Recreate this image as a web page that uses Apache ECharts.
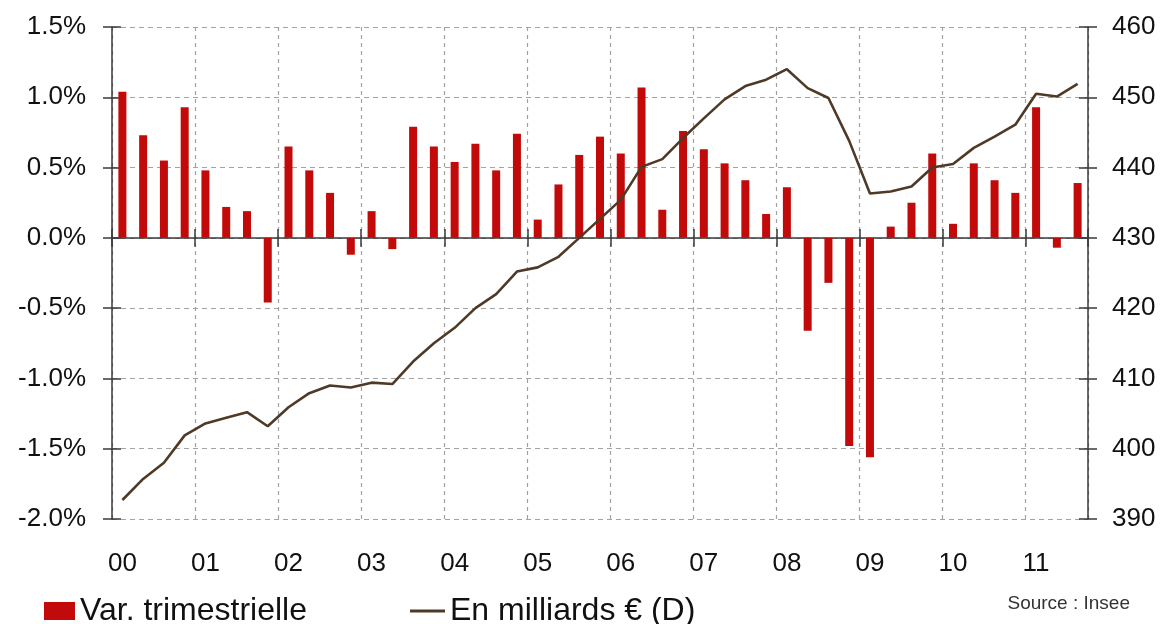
<!DOCTYPE html>
<html>
<head>
<meta charset="utf-8">
<script src="https://cdn.jsdelivr.net/npm/echarts@6/dist/echarts.min.js"></script>
<style>
  html, body { margin: 0; padding: 0; background: #fff; }
  #main { width: 1170px; height: 624px; }
</style>
</head>
<body>
<div id="main"></div>
<script>
// tick labels (years) and quarters
var years = ['00', '01', '02', '03', '04', '05', '06', '07', '08', '09', '10', '11'];
var quarters = ['T1', 'T2', 'T3', 'T4'];

// quarterly change, % (left axis)
var varTrim = [
    1.04, 0.73, 0.55, 0.93,
    0.48, 0.22, 0.19, -0.46,
    0.65, 0.48, 0.32, -0.12,
    0.19, -0.08, 0.79, 0.65,
    0.54, 0.67, 0.48, 0.74,
    0.13, 0.38, 0.59, 0.72,
    0.60, 1.07, 0.20, 0.76,
    0.63, 0.53, 0.41, 0.17,
    0.36, -0.66, -0.32, -1.48,
    -1.56, 0.08, 0.25, 0.60,
    0.10, 0.53, 0.41, 0.32,
    0.93, -0.07, 0.39
];

// level, billions of euros (right axis)
var milliards = [
    392.7, 395.7, 398.0, 401.9,
    403.6, 404.4, 405.2, 403.2,
    405.9, 407.9, 409.0, 408.7,
    409.4, 409.2, 412.4, 415.0,
    417.2, 420.0, 422.0, 425.2,
    425.8, 427.3, 430.0, 432.7,
    435.4, 440.1, 441.2, 444.2,
    447.0, 449.7, 451.6, 452.5,
    454.0, 451.3, 449.9, 443.8,
    436.3, 436.6, 437.3, 440.0,
    440.5, 442.8, 444.4, 446.1,
    450.5, 450.1, 451.9
];

var cats = [];
years.forEach(function (y) {
    quarters.forEach(function (q) {
        if (cats.length < varTrim.length) cats.push(y + ' ' + q);
    });
});

var FONT = '"Liberation Sans", Arial, sans-serif';
var gridColor = '#a3a3a3';
var axisColor = '#3a3a3a';
var tickStyle = {color: axisColor, width: 1.5};

var myChart = echarts.init(document.getElementById('main'));
var option = {
    animation: false,
    textStyle: {fontFamily: FONT},
    grid: {left: 112, right: 82, top: 27, bottom: 105},
    title: {
        text: 'Source : Insee',
        right: 35,
        top: 589,
        textStyle: {fontSize: 19, fontWeight: 'normal', color: '#333', fontFamily: FONT}
    },
    legend: [
        {
            data: [{name: 'Var. trimestrielle', icon: 'rect'}],
            left: 39,
            top: 590,
            itemWidth: 31,
            itemHeight: 18,
            textStyle: {fontSize: 32, color: '#111', fontFamily: FONT}
        },
        {
            data: [{name: 'En milliards € (D)', icon: 'rect'}],
            left: 405,
            top: 590,
            itemWidth: 35,
            itemHeight: 3,
            textStyle: {fontSize: 32, color: '#111', fontFamily: FONT}
        }
    ],
    xAxis: [
        {
            // axis on the zero line, ticks pointing down
            type: 'category',
            data: cats,
            position: 'bottom',
            axisLine: {onZero: true, lineStyle: {color: axisColor, width: 1.5}},
            axisTick: {show: true, interval: 3, length: 9, lineStyle: tickStyle},
            axisLabel: {show: false},
            splitLine: {show: true, interval: 3, lineStyle: {color: gridColor, type: [4, 4], width: 1.2}}
        },
        {
            // upper half of the crossing ticks on the zero line
            type: 'category',
            data: cats,
            position: 'top',
            offset: -211,
            axisLine: {show: false, onZero: false},
            axisTick: {show: true, interval: 3, length: 9, lineStyle: tickStyle},
            axisLabel: {show: false},
            splitLine: {show: false}
        },
        {
            // year labels at the bottom
            type: 'category',
            data: cats,
            position: 'bottom',
            axisLine: {show: false, onZero: false},
            axisTick: {show: false},
            axisLabel: {
                interval: 3,
                margin: 32,
                fontSize: 26,
                color: '#111',
                fontFamily: FONT,
                formatter: function (v) { return v.split(' ')[0]; }
            },
            splitLine: {show: false}
        }
    ],
    yAxis: [
        {
            type: 'value',
            min: -2,
            max: 1.5,
            interval: 0.5,
            axisLine: {show: true, lineStyle: {color: axisColor, width: 1.5}},
            axisTick: {show: true, length: 9, lineStyle: tickStyle},
            axisLabel: {
                margin: 26,
                fontSize: 26,
                color: '#111',
                fontFamily: FONT,
                formatter: function (v) { return v.toFixed(1) + '%'; }
            },
            splitLine: {show: true, lineStyle: {color: gridColor, type: [5, 4], width: 1.2}}
        },
        {
            type: 'value',
            min: 390,
            max: 460,
            interval: 10,
            position: 'right',
            axisLine: {show: true, lineStyle: {color: axisColor, width: 1.5}},
            axisTick: {show: true, length: 9, lineStyle: tickStyle},
            axisLabel: {margin: 24, fontSize: 26, color: '#111', fontFamily: FONT},
            splitLine: {show: false}
        },
        {
            // inner half of the left ticks
            type: 'value',
            min: -2,
            max: 1.5,
            interval: 0.5,
            position: 'left',
            axisLine: {show: false},
            axisTick: {show: true, inside: true, length: 9, lineStyle: tickStyle},
            axisLabel: {show: false},
            splitLine: {show: false}
        },
        {
            // inner half of the right ticks
            type: 'value',
            min: 390,
            max: 460,
            interval: 10,
            position: 'right',
            axisLine: {show: false},
            axisTick: {show: true, inside: true, length: 9, lineStyle: tickStyle},
            axisLabel: {show: false},
            splitLine: {show: false}
        }
    ],
    series: [
        {
            name: 'Var. trimestrielle',
            type: 'bar',
            xAxisIndex: 0,
            yAxisIndex: 0,
            barWidth: 8,
            itemStyle: {color: '#c20a0a'},
            data: varTrim
        },
        {
            name: 'En milliards € (D)',
            type: 'line',
            xAxisIndex: 0,
            yAxisIndex: 1,
            symbol: 'none',
            z: 5,
            itemStyle: {color: '#4f3a27'},
            lineStyle: {color: '#4f3a27', width: 2.6},
            data: milliards
        }
    ]
};
myChart.setOption(option);
</script>
</body>
</html>
